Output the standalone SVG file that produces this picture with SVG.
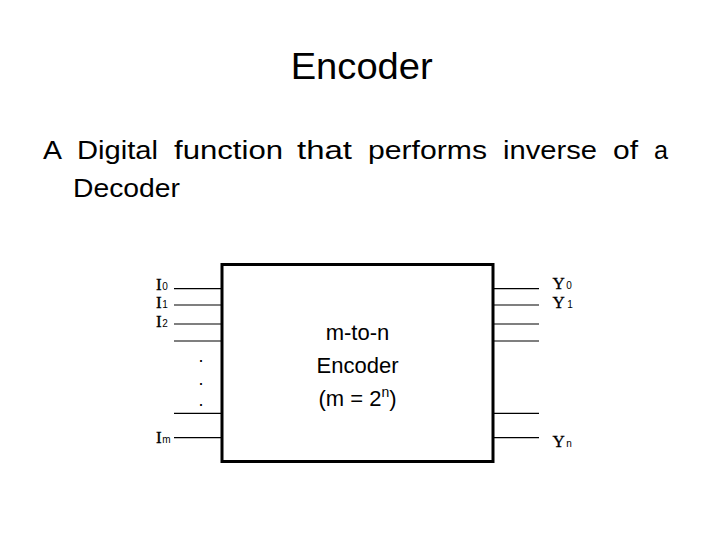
<svg xmlns="http://www.w3.org/2000/svg" width="720" height="540" viewBox="0 0 720 540">
<style>
.t{font-family:"Liberation Sans",Arial,sans-serif;fill:#000}
.lbl{font-family:"Liberation Serif","Times New Roman",serif;font-size:17px;fill:#000;stroke:#000;stroke-width:0.35}
.sub{font-family:"Liberation Sans",Arial,sans-serif;font-size:10px;fill:#000;stroke:none}
.w{font-size:25px}
.ln{stroke:#000;stroke-width:1.2;fill:none}
</style>
<rect width="720" height="540" fill="#fff"/>
<g id="title">
<text class="t" x="290.7" y="79.3" font-size="36" textLength="142" lengthAdjust="spacingAndGlyphs">Encoder</text>
</g>
<g id="description">
<text class="t w" x="43" y="159.3" textLength="19" lengthAdjust="spacingAndGlyphs">A</text>
<text class="t w" x="77" y="159.3" textLength="81" lengthAdjust="spacingAndGlyphs">Digital</text>
<text class="t w" x="174" y="159.3" textLength="109" lengthAdjust="spacingAndGlyphs">function</text>
<text class="t w" x="297" y="159.3" textLength="55" lengthAdjust="spacingAndGlyphs">that</text>
<text class="t w" x="368" y="159.3" textLength="119" lengthAdjust="spacingAndGlyphs">performs</text>
<text class="t w" x="503" y="159.3" textLength="94" lengthAdjust="spacingAndGlyphs">inverse</text>
<text class="t w" x="613" y="159.3" textLength="25" lengthAdjust="spacingAndGlyphs">of</text>
<text class="t w" x="654" y="159.3" textLength="14" lengthAdjust="spacingAndGlyphs">a</text>
<text class="t w" x="73" y="196.5" textLength="107" lengthAdjust="spacingAndGlyphs">Decoder</text>
</g>
<g id="connectors">
<line class="ln" x1="174" y1="288.7" x2="222" y2="288.7"/>
<line class="ln" x1="174" y1="305" x2="222" y2="305"/>
<line class="ln" x1="174" y1="324" x2="222" y2="324"/>
<line class="ln" x1="174" y1="341" x2="222" y2="341"/>
<line class="ln" x1="174" y1="413.3" x2="222" y2="413.3"/>
<line class="ln" x1="174" y1="437.7" x2="222" y2="437.7"/>
<line class="ln" x1="493" y1="288.7" x2="539" y2="288.7"/>
<line class="ln" x1="493" y1="305" x2="539" y2="305"/>
<line class="ln" x1="493" y1="324" x2="539" y2="324"/>
<line class="ln" x1="493" y1="341" x2="539" y2="341"/>
<line class="ln" x1="493" y1="413.3" x2="539" y2="413.3"/>
<line class="ln" x1="493" y1="437.7" x2="539" y2="437.7"/>
</g>
<g id="encoder-box">
<rect x="222" y="264.5" width="271" height="197" fill="none" stroke="#000" stroke-width="3"/>
<text class="t" x="357.5" y="340" font-size="22" text-anchor="middle">m-to-n</text>
<text class="t" x="357.5" y="373" font-size="22" text-anchor="middle">Encoder</text>
<text class="t" x="357.5" y="406" font-size="22" text-anchor="middle">(m = 2<tspan font-size="14" dy="-9">n</tspan><tspan dy="9">)</tspan></text>
</g>
<g id="input-labels">
<text class="lbl" x="156" y="289.5">I<tspan class="sub" dx="0.5">0</tspan></text>
<text class="lbl" x="156" y="308">I<tspan class="sub" dx="0.5">1</tspan></text>
<text class="lbl" x="156" y="327">I<tspan class="sub" dx="0.5">2</tspan></text>
<text class="lbl" x="156" y="443">I<tspan class="sub" dx="0.5">m</tspan></text>
<text class="t" x="201" y="362" font-size="18" text-anchor="middle">.</text>
<text class="t" x="201" y="385" font-size="18" text-anchor="middle">.</text>
<text class="t" x="201" y="406" font-size="18" text-anchor="middle">.</text>
</g>
<g id="output-labels">
<text class="lbl" x="552.5" y="289">Y<tspan class="sub" dx="1.5">0</tspan></text>
<text class="lbl" x="552.5" y="308">Y<tspan class="sub" dx="2.5">1</tspan></text>
<text class="lbl" x="552.5" y="447">Y<tspan class="sub" dx="1.5">n</tspan></text>
</g>
</svg>
